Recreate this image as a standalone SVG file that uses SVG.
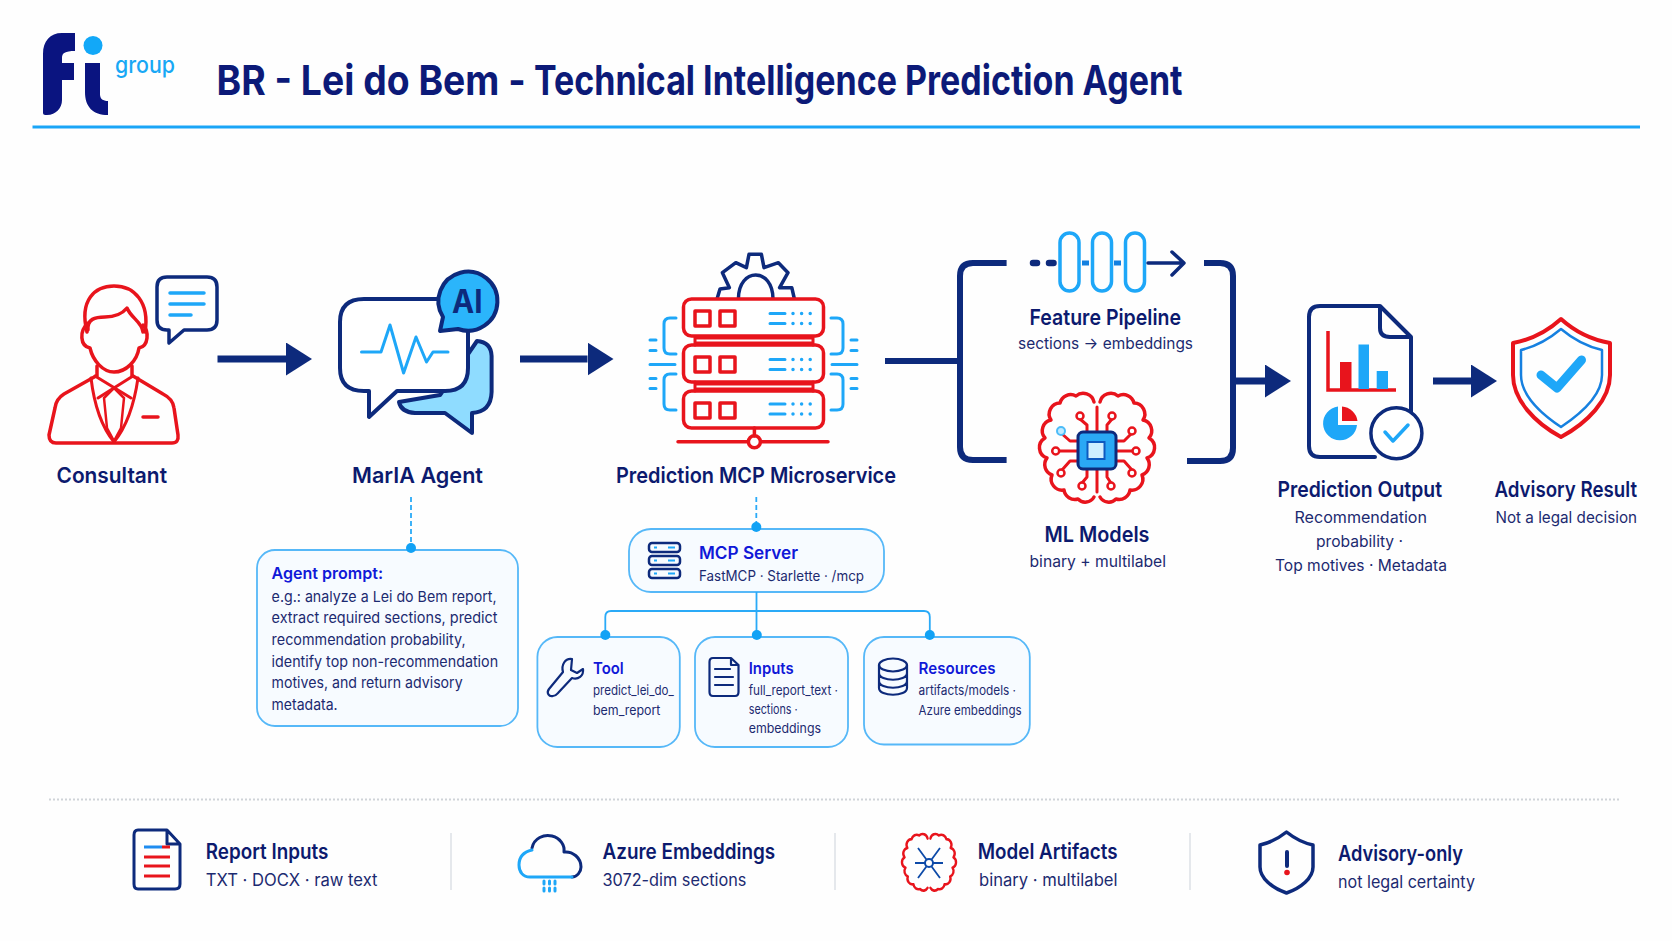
<svg xmlns="http://www.w3.org/2000/svg" width="1672" height="941" viewBox="0 0 1672 941">
<style>
text{font-family:"Inter","Liberation Sans",sans-serif;}
.t{font-size:41px;font-weight:700;fill:#0c1a78}
.h{font-size:22px;font-weight:600;fill:#0c1a6e}
.s{font-size:16px;font-weight:400;fill:#1c2a70}
.bh{font-size:17px;font-weight:600;fill:#1018d8}
.bt{font-size:13px;font-weight:400;fill:#1c2a70}
.p{font-size:15px;font-weight:400;fill:#1c2a70}
.lh{font-size:21px;font-weight:600;fill:#0c1a6e}
.ls{font-size:17px;font-weight:400;fill:#1c2a70}
.n{fill:none;stroke:#0d2a7c;stroke-linecap:round;stroke-linejoin:round}
.n:not([stroke-width]){stroke-width:4}
.r{fill:none;stroke:#e8141c;stroke-linecap:round;stroke-linejoin:round}
.r:not([stroke-width]){stroke-width:3.5}
.b{fill:none;stroke:#1ea7f8;stroke-linecap:round;stroke-linejoin:round}
.b:not([stroke-width]){stroke-width:3.5}
.box{fill:#f7fbff;stroke:#56b8f8;stroke-width:1.8}
.dot{fill:#12a2f5}
.arr{fill:none;stroke:#0d2a7c;stroke-width:7}
.brk{fill:none;stroke:#0d2a7c;stroke-width:6;stroke-linecap:butt}
.thin{fill:none;stroke:#2aaaf7;stroke-width:1.8}
.dash{fill:none;stroke:#2aaaf7;stroke-width:1.8;stroke-dasharray:5 3}
.div{stroke:#dde1e6;stroke-width:1.5}
</style>
<defs>
<marker id="ah" markerUnits="userSpaceOnUse" markerWidth="26" markerHeight="33" viewBox="0 0 26 33" refX="0" refY="16.5" orient="auto"><polygon points="0,0 26,16.5 0,33" fill="#0d2a7c"/></marker>
<path id="brainHalf" d="M1094 402A11 11 0 0 0 1076 396A11 11 0 0 0 1060 403A11 11 0 0 0 1051 420A11 11 0 0 0 1045 438A11 11 0 0 0 1047 458A11 11 0 0 0 1052 475A11 11 0 0 0 1064 490A11 11 0 0 0 1078 499A10 10 0 0 0 1094 497"/>
</defs>
<rect width="1672" height="941" fill="#fefefe"/>

<g id="header">
<path d="M75 33H62C50 33 43 41 43 54V113C43 115 45 115 47 115C56 115 62 108 62 100V80H74V63H62V58C62 53 65 51 75 51Z" fill="#0a1480"/>
<path d="M85 63H100V94C100 99 103 101 108 101V115C93 115 85 107 85 92Z" fill="#0a1480"/>
<ellipse cx="93" cy="45.5" rx="9.5" ry="9.5" fill="#12a8f8"/>
<text x="115" y="73" font-size="23" font-weight="500" fill="#18a8f5" textLength="60" lengthAdjust="spacingAndGlyphs">group</text>
<text class="t" y="95"><tspan x="216.500" textLength="318" lengthAdjust="spacingAndGlyphs">BR - Lei do Bem - </tspan><tspan x="534" textLength="648.500" lengthAdjust="spacingAndGlyphs">Technical Intelligence Prediction Agent</tspan></text>
<line x1="32.500" y1="127" x2="1640" y2="127" stroke="#1aa5f7" stroke-width="3"/>
</g>

<g id="consultant">
<path class="r" d="M87 332C79 300 95 286 114 286C134 286 150 302 145 332"/>
<path class="r" d="M88 330C87 319 95 317 105 317C115 317 122 314 127 308C131 318 142 322 143 332"/>
<path class="r" d="M88 323C79 331 80 346 90 348C93 361 103 372 114 372C126 372 137 361 139 348C149 346 149 331 143 325"/>
<path class="r" d="M97 366V376M132 366V376"/>
<path class="r" d="M96 376L64 394Q56 399 55 408L49 435Q49 443 56 443H172Q179 443 178 435L174 408Q173 399 163 394L133 376"/>
<path class="r" stroke-width="3" d="M95 376L131 398M133 376L98 398M91 378Q96 420 114 442Q132 420 138 378"/>
<path class="r" stroke-width="2.5" d="M114 388L104 398L107 428L114 441L121 428L124 398Z"/>
<path class="r" d="M143 417H158"/>
<path class="n" stroke-width="3.5" d="M168 277H207Q217 277 217 287V320Q217 330 207 330H184L169 343V330H167Q157 330 157 320V287Q157 277 167 277Z"/>
<path class="b" d="M170 293H204M170 304H204M170 315H191"/>
<text class="h" x="56.500" y="482.500" textLength="110.500" lengthAdjust="spacingAndGlyphs">Consultant</text>
</g>

<g id="maria-agent">
<path d="M477 341Q491 342 491.600 356V392Q491 412 472 413V433L445 413H415Q401 412 399 402L440 395Z" fill="#8fdcff" stroke="#0d2a7c" stroke-width="4" stroke-linejoin="round"/>
<path class="n" style="fill:#fff" d="M368 299H445Q468 299 468 322V368Q468 391 445 391H397L369 417V391H364Q340 391 340 368V322Q340 299 364 299Z"/>
<path class="b" stroke-width="3" d="M361.500 352H381L390 325L403.600 373L416 337L426.500 362L433 352H448"/>
<path d="M443 317L440 331L458 329A29.500 29.500 0 1 0 443 317Z" fill="#2bb5fb" stroke="#0d2a7c" stroke-width="4" stroke-linejoin="round"/>
<text x="452" y="313" font-size="33" font-weight="700" fill="#0d2a7c" textLength="30.500" lengthAdjust="spacingAndGlyphs">AI</text>
<text class="h" x="352" y="482.500" textLength="131" lengthAdjust="spacingAndGlyphs">MarIA Agent</text>
</g>

<g id="prediction-mcp">
<g transform="translate(0 1)">
<path class="n" stroke-width="3.500" d="M717 298L720 288L729.400 286.700L722.400 271.700L735.800 261.700L746.400 266.700L749 253.300H761.400L764 266.700L778.400 261.700L788 271.700L779.600 286.700L791.800 286.700L794.400 298M738.400 298C738.400 266 773 266 773 298"/>
<path class="r" d="M695 335V344M813 335V344M695 381V390M813 381V390M695 337H813M695 342H813M695 383H813M695 388H813" stroke-width="3"/>
<g class="r">
<rect x="683.500" y="298" width="140" height="37" rx="8" style="fill:#fff"/>
<rect x="683.500" y="344" width="140" height="37" rx="8"/>
<rect x="683.500" y="390" width="140" height="37" rx="8"/>
<rect x="695" y="310" width="15" height="15"/><rect x="720" y="310" width="15" height="15"/>
<rect x="695" y="356" width="15" height="15"/><rect x="720" y="356" width="15" height="15"/>
<rect x="695" y="402" width="15" height="15"/><rect x="720" y="402" width="15" height="15"/>
</g>
<path class="b" stroke-width="3" d="M770 312.500H785M770 322.500H785M770 358.500H785M770 368.500H785M770 403H785M770 413H785"/>
<path class="b" stroke-width="3.500" stroke-dasharray="0 8.600" d="M793 312.500H811M793 322.500H811M793 358.500H811M793 368.500H811M793 403H811M793 413H811"/>
<path class="r" d="M754.400 427V435M678 440.700H748M761 440.700H828"/>
<circle class="r" cx="754.400" cy="440.700" r="6"/>
<path class="b" stroke-width="3" d="M676 317H670Q664 317 664 323V347Q664 353 670 353H676M676 373H670Q664 373 664 379V403Q664 409 670 409H676M650 339H656M650 349.500H656M650 363.500H675M650 377.500H656M650 387.500H656"/>
<path class="b" stroke-width="3" transform="translate(1507 0) scale(-1 1)" d="M676 317H670Q664 317 664 323V347Q664 353 670 353H676M676 373H670Q664 373 664 379V403Q664 409 670 409H676M650 339H656M650 349.500H656M650 363.500H675M650 377.500H656M650 387.500H656"/>
</g>
<text class="h" x="616" y="482.500" textLength="280" lengthAdjust="spacingAndGlyphs">Prediction MCP Microservice</text>
</g>

<g id="feature-pipeline">
<rect class="b" x="1060" y="233" width="19" height="58" rx="9.500"/>
<rect class="b" x="1092.500" y="233" width="19" height="58" rx="9.500"/>
<rect class="b" x="1125.500" y="233" width="19" height="58" rx="9.500"/>
<path d="M1033 263H1037M1049 263H1053.500" stroke="#0d2a7c" stroke-width="6.500" stroke-linecap="round"/>
<path d="M1082 263H1089M1114 263H1121" stroke="#1480e0" stroke-width="5"/>
<path class="n" stroke-width="3.500" d="M1148 263H1183M1172 252L1184 263L1172 275"/>
<text class="h" x="1029.500" y="325" textLength="151.500" lengthAdjust="spacingAndGlyphs">Feature Pipeline</text>
<text class="s" x="1018" y="349" textLength="175" lengthAdjust="spacingAndGlyphs">sections → embeddings</text>
</g>

<g id="ml-models">
<use href="#brainHalf" class="r"/>
<use href="#brainHalf" class="r" transform="translate(2194 0) scale(-1 1)"/>
<path class="r" stroke-width="3" d="M1097 431V407M1097 470V492M1087 431V425L1080 419M1107 431V425L1112 419M1077 441H1070L1061 433M1116 441H1124L1132 433M1077 451H1059M1116 451H1133M1077 461H1070L1062 470M1116 461H1124L1132 470M1087 470V477L1082 483M1107 470V477L1111 483"/>
<g fill="#fff" stroke="#e8141c" stroke-width="2.500">
<circle cx="1080" cy="416" r="3.500"/><circle cx="1112" cy="416" r="3.500"/>
<circle cx="1132" cy="431" r="3.500"/><circle cx="1136" cy="451" r="3.500"/><circle cx="1055.700" cy="451" r="3.500"/>
<circle cx="1061" cy="473" r="3.500"/><circle cx="1132" cy="473" r="3.500"/><circle cx="1082" cy="486" r="3.500"/><circle cx="1111" cy="486" r="3.500"/>
</g>
<circle cx="1061" cy="431" r="4" fill="#bfeaff" stroke="#4cbcf8" stroke-width="2"/>
<rect x="1078" y="432" width="38" height="37" rx="5" fill="#2aa8f5" stroke="#0d2a7c" stroke-width="3"/>
<rect x="1087.500" y="442" width="17" height="17" fill="#cfefff" stroke="#0d5ac0" stroke-width="2"/>
<text class="h" x="1044.500" y="541.700" textLength="105" lengthAdjust="spacingAndGlyphs">ML Models</text>
<text class="s" x="1029.500" y="566.700" textLength="136.500" lengthAdjust="spacingAndGlyphs">binary + multilabel</text>
</g>

<g id="prediction-output">
<path class="n" d="M1320 306H1380L1411 337V433M1380 306V328Q1380 337 1390 337H1411M1320 306Q1309 306 1309 317V446Q1309 457 1320 457H1375"/>
<path d="M1328 331V390H1396" fill="none" stroke="#e8141c" stroke-width="3.500"/>
<rect x="1340" y="362" width="11.500" height="27" fill="#e8141c"/>
<rect x="1358.500" y="344.500" width="10.500" height="44.500" fill="#1ea7f8"/>
<rect x="1376.700" y="371" width="11.300" height="18" fill="#1ea7f8"/>
<path d="M1338 406.500A17 17 0 1 0 1357 425H1338Z" fill="#1ea7f8"/>
<path d="M1342 406.500A17 17 0 0 1 1357.500 421H1342Z" fill="#e8141c"/>
<circle cx="1396.400" cy="433.300" r="25.500" fill="#fff" stroke="#0d2a7c" stroke-width="3.500"/>
<path class="b" d="M1385 432L1393 441L1408 425"/>
<text class="h" x="1277.500" y="496.500" textLength="164.500" lengthAdjust="spacingAndGlyphs">Prediction Output</text>
<text class="s" x="1294.500" y="522.700" textLength="132.500" lengthAdjust="spacingAndGlyphs">Recommendation</text>
<text class="s" x="1316" y="547" textLength="87" lengthAdjust="spacingAndGlyphs">probability ·</text>
<text class="s" x="1275" y="571" textLength="172" lengthAdjust="spacingAndGlyphs">Top motives · Metadata</text>
</g>

<g id="advisory-result">
<path class="r" stroke-width="4" d="M1561 319Q1540 338 1513 343V375C1513 400 1535 423 1561 437C1587 423 1610 400 1610 375V343Q1582 338 1561 319Z"/>
<path class="b" stroke-width="2.500" style="stroke:#1680e0" d="M1561 329Q1542 345 1521 350V375C1521 395 1540 413 1561 427C1582 413 1602 395 1602 375V350Q1580 345 1561 329Z"/>
<path class="b" stroke-width="9" d="M1541 375L1557 388L1581.500 360"/>
<text class="h" x="1494.500" y="496.500" textLength="142.500" lengthAdjust="spacingAndGlyphs">Advisory Result</text>
<text class="s" x="1495.500" y="522.700" textLength="141.500" lengthAdjust="spacingAndGlyphs">Not a legal decision</text>
</g>

<g id="agent-prompt">
<rect class="box" x="257" y="550" width="261" height="176" rx="18"/>
<text class="bh" x="271.600" y="579" style="font-size:16px" textLength="111.500" lengthAdjust="spacingAndGlyphs">Agent prompt:</text>
<text class="p" x="271.600" y="601.700" textLength="225" lengthAdjust="spacingAndGlyphs">e.g.: analyze a Lei do Bem report,</text>
<text class="p" x="271.600" y="623" textLength="226" lengthAdjust="spacingAndGlyphs">extract required sections, predict</text>
<text class="p" x="271.600" y="645" textLength="194" lengthAdjust="spacingAndGlyphs">recommendation probability,</text>
<text class="p" x="271.600" y="666.700" textLength="226.500" lengthAdjust="spacingAndGlyphs">identify top non-recommendation</text>
<text class="p" x="271.600" y="688" textLength="191" lengthAdjust="spacingAndGlyphs">motives, and return advisory</text>
<text class="p" x="271.600" y="710" textLength="66" lengthAdjust="spacingAndGlyphs">metadata.</text>
</g>

<g id="mcp-server">
<rect class="box" x="629" y="529" width="255" height="63" rx="22"/>
<g fill="none" stroke="#0d2a7c" stroke-width="2.500">
<rect x="649" y="543" width="31" height="9" rx="3"/><rect x="649" y="556" width="31" height="9" rx="3"/><rect x="649" y="569" width="31" height="9" rx="3"/>
</g>
<path d="M654 547.500H657M654 560.500H657M654 573.500H657M668 547.500H675M668 560.500H675M668 573.500H675" stroke="#1ea7f8" stroke-width="2"/>
<text class="bh" x="699" y="559" textLength="99" lengthAdjust="spacingAndGlyphs">MCP Server</text>
<text class="bt" x="699" y="580.700" style="font-size:14px" textLength="165" lengthAdjust="spacingAndGlyphs">FastMCP · Starlette · /mcp</text>
</g>

<g id="tool">
<rect class="box" x="537.400" y="637" width="142.400" height="110" rx="20"/>
<path class="n" stroke-width="2.200" d="M572 659C565 658 561 665 563 672L549 689C546 693 549 697 553 696C556 696 557 694 558 693L572 678C578 680 584 676 583 669L577 673L571 670Z"/>
<text class="bh" x="593" y="674" style="font-size:16px" textLength="30.700" lengthAdjust="spacingAndGlyphs">Tool</text>
<text class="bt" x="593" y="695" textLength="80.700" lengthAdjust="spacingAndGlyphs">predict_lei_do_</text>
<text class="bt" x="593" y="715" textLength="67.400" lengthAdjust="spacingAndGlyphs">bem_report</text>
</g>

<g id="inputs">
<rect class="box" x="695" y="637" width="153" height="110" rx="20"/>
<path class="n" stroke-width="2.200" d="M713 658H731L738.500 665V692Q738.500 696 735 696H713Q709.500 696 709.500 692V662Q709.500 658 713 658ZM731 658V665H738.500M715 669H730M715 677H733M715 685H733"/>
<text class="bh" x="748.700" y="674" style="font-size:16px" textLength="44.900" lengthAdjust="spacingAndGlyphs">Inputs</text>
<text class="bt" x="748.700" y="695" textLength="89.300" lengthAdjust="spacingAndGlyphs">full_report_text ·</text>
<text class="bt" x="748.700" y="714" textLength="49" lengthAdjust="spacingAndGlyphs">sections ·</text>
<text class="bt" x="748.700" y="733" textLength="72.300" lengthAdjust="spacingAndGlyphs">embeddings</text>
</g>

<g id="resources">
<rect class="box" x="864" y="637" width="165.800" height="107.500" rx="20"/>
<g class="n" stroke-width="2.200">
<ellipse cx="893" cy="665" rx="14" ry="6.500"/>
<path d="M879 665V688C879 697 907 697 907 688V665M879 673C879 682 907 682 907 673M879 681C879 690 907 690 907 681"/>
</g>
<text class="bh" x="918.600" y="674" style="font-size:16px" textLength="77" lengthAdjust="spacingAndGlyphs">Resources</text>
<text class="bt" x="918.600" y="695" textLength="97.400" lengthAdjust="spacingAndGlyphs">artifacts/models ·</text>
<text class="bt" x="918.600" y="715" textLength="103" lengthAdjust="spacingAndGlyphs">Azure embeddings</text>
</g>

<g id="footer-rule">
<line x1="49" y1="799.500" x2="1621" y2="799.500" stroke="#cfd3d8" stroke-width="2" stroke-dasharray="2 2"/>
<line class="div" x1="451" y1="833" x2="451" y2="890"/>
<line class="div" x1="835" y1="833" x2="835" y2="890"/>
<line class="div" x1="1190" y1="833" x2="1190" y2="890"/>
</g>

<g id="report-inputs">
<path class="n" stroke-width="3" d="M138 830H167L180 844V884Q180 889 175 889H138Q134 889 134 884V835Q134 830 138 830ZM167 830V844H180"/>
<path d="M144 847H162" stroke="#1e8cf0" stroke-width="3"/>
<path d="M162 847H170M144 857H170M144 866H170M144 876H170" stroke="#e8141c" stroke-width="3"/>
<text class="lh" x="205.800" y="859" textLength="122.600" lengthAdjust="spacingAndGlyphs">Report Inputs</text>
<text class="ls" x="205.800" y="886" textLength="171.700" lengthAdjust="spacingAndGlyphs">TXT · DOCX · raw text</text>
</g>

<g id="azure-embeddings">
<path class="n" stroke-width="3" d="M532 848C534 838 544 834 552 836C560 838 565 845 564 852C573 851 581 858 581 867C581 872 577 877 572 877"/>
<path class="b" stroke-width="3" d="M572 877H530C523 877 519 872 519 865C519 858 523 852 532 850"/>
<path class="b" stroke-width="3" stroke-dasharray="3 4" d="M544 881V891M549.500 881V891M555 881V891"/>
<text class="lh" x="602.500" y="859" textLength="172.700" lengthAdjust="spacingAndGlyphs">Azure Embeddings</text>
<text class="ls" x="602.500" y="886" textLength="143.900" lengthAdjust="spacingAndGlyphs">3072-dim sections</text>
</g>

<g id="model-artifacts">
<g transform="translate(929 863) scale(.47 .52) translate(-1097 -449)">
<use href="#brainHalf" class="r" style="stroke-width:5"/>
<use href="#brainHalf" class="r" style="stroke-width:5" transform="translate(2194 0) scale(-1 1)"/>
</g>
<path d="M929 863L918 848M929 863L940 848M929 863L915 863M929 863L943 863M929 863L918 878M929 863L940 878" stroke="#0d4aa8" stroke-width="1.800" fill="none"/>
<circle cx="929" cy="863" r="4" fill="#fff" stroke="#0d4aa8" stroke-width="2"/>
<text class="lh" x="977.800" y="859" textLength="139.700" lengthAdjust="spacingAndGlyphs">Model Artifacts</text>
<text class="ls" x="979" y="886" textLength="138.500" lengthAdjust="spacingAndGlyphs">binary · multilabel</text>
</g>

<g id="advisory-only">
<path class="n" stroke-width="3.500" d="M1286.500 832Q1274 842 1260 845V867C1260 878 1272 888 1286.500 893C1301 888 1313 878 1313 867V845Q1299 842 1286.500 832Z"/>
<path d="M1287 852V866" stroke="#0d2a7c" stroke-width="4" stroke-linecap="round"/>
<circle cx="1287" cy="872.500" r="2.800" fill="#e8141c"/>
<text class="lh" x="1338" y="861" textLength="125" lengthAdjust="spacingAndGlyphs">Advisory-only</text>
<text class="ls" x="1338" y="888" textLength="137" lengthAdjust="spacingAndGlyphs">not legal certainty</text>
</g>

<g id="connectors">
<line class="arr" x1="217.500" y1="359" x2="286" y2="359" marker-end="url(#ah)"/>
<line class="arr" x1="520" y1="359" x2="587.500" y2="359" marker-end="url(#ah)"/>
<line class="brk" x1="885" y1="361" x2="957" y2="361"/>
<path class="brk" d="M1006.600 263H973Q960 263 960 276V447Q960 460 973 460H1006.600"/>
<path class="brk" d="M1204 263H1220Q1233 263 1233 276V448Q1233 461 1220 461H1187"/>
<line class="arr" x1="1235" y1="381" x2="1265" y2="381" marker-end="url(#ah)"/>
<line class="arr" x1="1433" y1="381" x2="1471" y2="381" marker-end="url(#ah)"/>
<line class="dash" x1="411" y1="497" x2="411" y2="548"/>
<circle class="dot" cx="411" cy="548" r="5"/>
<line class="dash" x1="756.300" y1="497" x2="756.300" y2="527"/>
<circle class="dot" cx="756.300" cy="527" r="5"/>
<path class="thin" d="M605.300 635V617Q605.300 611 611 611H924Q929.800 611 929.800 617V635M756.500 592V635"/>
<circle class="dot" cx="605.300" cy="635" r="5"/>
<circle class="dot" cx="756.800" cy="635" r="5"/>
<circle class="dot" cx="929.800" cy="635" r="5"/>
</g>
</svg>
